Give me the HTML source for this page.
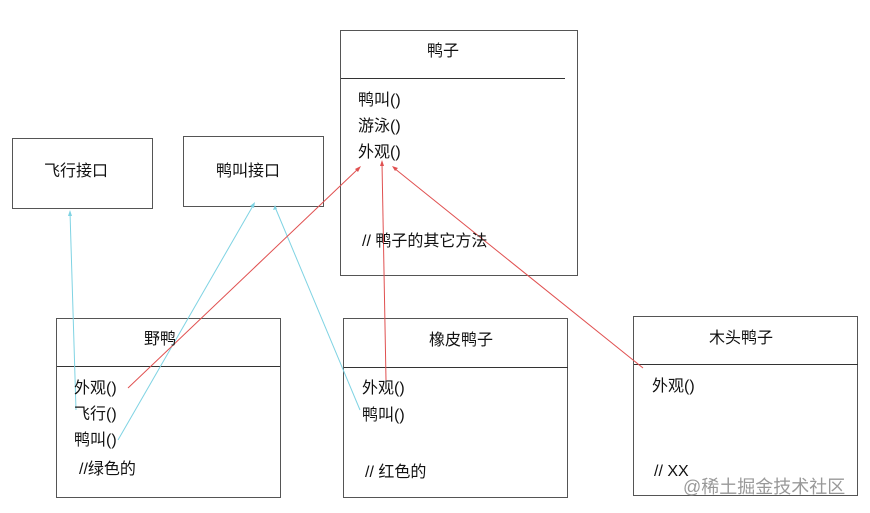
<!DOCTYPE html>
<html><head><meta charset="utf-8"><style>
body{margin:0;width:870px;height:513px;background:#fff;overflow:hidden;position:relative;font-family:"Liberation Sans","Noto Sans CJK SC",sans-serif;color:#111}
.b{position:absolute;border:1px solid #555;box-sizing:border-box}
.t{position:absolute;font-size:16px;line-height:18px;white-space:nowrap}
svg{position:absolute;left:0;top:0}
</style></head><body>
<div class="b" style="left:340px;top:30px;width:238px;height:246px"></div>
<div class="b" style="left:12px;top:138px;width:141px;height:71px"></div>
<div class="b" style="left:183px;top:136px;width:141px;height:71px"></div>
<div class="b" style="left:56px;top:318px;width:225px;height:180px"></div>
<div class="b" style="left:343px;top:318px;width:225px;height:180px"></div>
<div class="b" style="left:633px;top:316px;width:225px;height:180px"></div>
<svg width="870" height="513">
<g stroke="#333" stroke-width="1">
<line x1="341" y1="78.5" x2="565" y2="78.5"/>
<line x1="57" y1="366.5" x2="280" y2="366.5"/>
<line x1="344" y1="367.5" x2="568" y2="367.5"/>
<line x1="634" y1="364.5" x2="858" y2="364.5"/>
</g>
<g stroke="#7fd3e3" stroke-width="1" fill="none">
<line x1="76" y1="410" x2="70" y2="212"/>
<line x1="118" y1="440" x2="254" y2="204"/>
<line x1="360" y1="410" x2="275" y2="207"/>
</g>
<g fill="#7fd3e3"><polygon points="70,210 68,216 72,216"/><polygon points="255,202 250,206 254,208"/><polygon points="275,205 273,210 277,209"/></g>
<g stroke="#e05050" stroke-width="1" fill="none">
<line x1="128" y1="388" x2="359" y2="168"/>
<line x1="386" y1="380" x2="382" y2="163"/>
<line x1="643" y1="368" x2="394" y2="168"/>
</g>
<g fill="#e05050"><polygon points="361,166 355,169 358,172"/><polygon points="382,160 380,166 384,166"/><polygon points="392,166 395,171 398,168"/></g>
</svg>
<div class="t" style="left:427px;top:43px">鸭子</div>
<div class="t" style="left:358px;top:92px">鸭叫()</div>
<div class="t" style="left:358px;top:118px">游泳()</div>
<div class="t" style="left:358px;top:144px">外观()</div>
<div class="t" style="left:362px;top:233px">// 鸭子的其它方法</div>
<div class="t" style="left:44px;top:163px">飞行接口</div>
<div class="t" style="left:216px;top:163px">鸭叫接口</div>
<div class="t" style="left:144px;top:331px">野鸭</div>
<div class="t" style="left:74px;top:380px">外观()</div>
<div class="t" style="left:74px;top:406px">飞行()</div>
<div class="t" style="left:74px;top:432px">鸭叫()</div>
<div class="t" style="left:79px;top:461px">//绿色的</div>
<div class="t" style="left:429px;top:332px">橡皮鸭子</div>
<div class="t" style="left:362px;top:380px">外观()</div>
<div class="t" style="left:362px;top:407px">鸭叫()</div>
<div class="t" style="left:365px;top:464px">// 红色的</div>
<div class="t" style="left:709px;top:330px">木头鸭子</div>
<div class="t" style="left:652px;top:378px">外观()</div>
<div class="t" style="left:654px;top:463px">// XX</div>
<div class="t" style="left:683px;top:477px;color:#999;font-size:18px;line-height:20px">@稀土掘金技术社区</div>
</body></html>
